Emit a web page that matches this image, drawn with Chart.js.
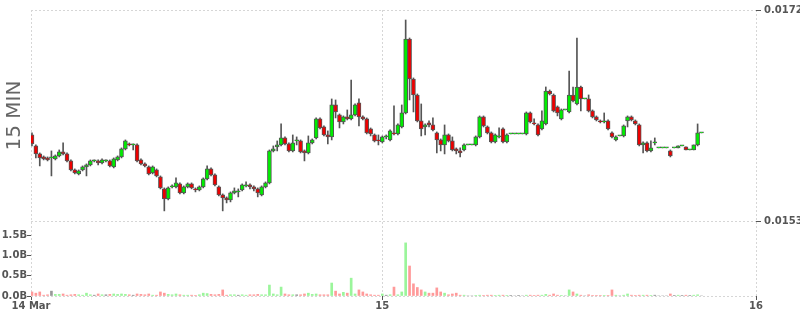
<!DOCTYPE html>
<html>
<head>
<meta charset="utf-8">
<script src="https://cdn.jsdelivr.net/npm/chart.js@4.4.0/dist/chart.umd.min.js"></script>
<style>
  html, body { margin: 0; padding: 0; background: #fff; }
</style>
</head>
<body>
<canvas id="chart" width="800" height="315"></canvas>
<script>
// 15 minute candles, slot 0 = 14 Mar 01:30
const open = [
  0.016075,0.015976,0.015904,0.015877,0.015868,0.015868,0.015859,0.015886,0.015922,0.015904,
  0.015841,0.015760,0.015724,0.015760,0.015787,0.015805,0.015841,0.015841,0.015823,0.015841,
  0.015841,0.015787,0.015850,0.015877,0.015949,0.015994,0.015985,0.015985,0.015850,0.015814,
  0.015787,0.015733,0.015760,0.015697,0.015589,0.015499,0.015607,0.015607,0.015634,0.015553,
  0.015607,0.015634,0.015589,0.015580,0.015607,0.015679,0.015769,0.015715,0.015607,0.015535,
  0.015508,0.015490,0.015553,0.015562,0.015580,0.015616,0.015625,0.015607,0.015589,0.015535,
  0.015607,0.015643,0.015931,0.015967,0.015985,0.016048,0.015994,0.015931,0.016021,0.016021,
  0.015931,0.015913,0.016003,0.016048,0.016219,0.016147,0.016075,0.016057,0.016345,0.016255,
  0.016192,0.016237,0.016219,0.016255,0.016363,0.016237,0.016219,0.016129,0.016075,0.016030,
  0.016012,0.016057,0.016030,0.016093,0.016084,0.016147,0.016273,0.016939,0.016579,0.016435,
  0.016201,0.016147,0.016183,0.016165,0.016093,0.016030,0.015985,0.016075,0.016021,0.015949,
  0.015931,0.015940,0.015985,0.015985,0.015985,0.016057,0.016237,0.016147,0.016093,0.016012,
  0.016057,0.016129,0.016012,0.016084,0.016084,0.016084,0.016084,0.016084,0.016273,0.016183,
  0.016165,0.016129,0.016174,0.016471,0.016435,0.016327,0.016219,0.016300,0.016282,0.016435,
  0.016354,0.016507,0.016399,0.016399,0.016291,0.016237,0.016201,0.016192,0.016201,0.016093,
  0.016030,0.016066,0.016066,0.016201,0.016237,0.016201,0.016165,0.015985,0.016003,0.015931,
  0.016003,0.015958,0.015958,0.015958,0.015931,0.015958,0.015958,0.015976,0.015967,0.015940,
  0.015940,0.015985,0.016093
];
const high = [
  0.016093,0.015985,0.015913,0.015886,0.015877,0.015931,0.015895,0.015940,0.016003,0.015913,
  0.015850,0.015769,0.015760,0.015796,0.015814,0.015850,0.015850,0.015850,0.015859,0.015850,
  0.015850,0.015868,0.015886,0.015958,0.016030,0.016003,0.015994,0.015994,0.015859,0.015823,
  0.015796,0.015796,0.015769,0.015706,0.015598,0.015607,0.015625,0.015688,0.015643,0.015616,
  0.015643,0.015643,0.015598,0.015616,0.015688,0.015796,0.015778,0.015724,0.015616,0.015544,
  0.015517,0.015562,0.015598,0.015589,0.015634,0.015652,0.015634,0.015616,0.015598,0.015616,
  0.015652,0.015940,0.015976,0.016021,0.016174,0.016057,0.016003,0.016075,0.016057,0.016030,
  0.015940,0.016066,0.016039,0.016228,0.016228,0.016156,0.016111,0.016399,0.016390,0.016264,
  0.016246,0.016300,0.016570,0.016354,0.016399,0.016246,0.016228,0.016138,0.016084,0.016075,
  0.016066,0.016075,0.016120,0.016336,0.016174,0.016345,0.017110,0.016948,0.016588,0.016444,
  0.016354,0.016174,0.016201,0.016228,0.016102,0.016039,0.016165,0.016084,0.016057,0.015958,
  0.015958,0.015994,0.015985,0.015985,0.016066,0.016246,0.016246,0.016156,0.016102,0.016084,
  0.016138,0.016138,0.016084,0.016084,0.016084,0.016084,0.016084,0.016282,0.016282,0.016219,
  0.016174,0.016291,0.016507,0.016480,0.016444,0.016336,0.016309,0.016300,0.016651,0.016507,
  0.016948,0.016516,0.016399,0.016435,0.016300,0.016246,0.016210,0.016273,0.016210,0.016102,
  0.016066,0.016066,0.016165,0.016246,0.016246,0.016210,0.016174,0.016012,0.016012,0.016021,
  0.016048,0.015958,0.015958,0.015958,0.015940,0.015958,0.015976,0.015976,0.015967,0.015940,
  0.015985,0.016174,0.016093
];
const low = [
  0.015976,0.015868,0.015796,0.015850,0.015841,0.015706,0.015850,0.015877,0.015895,0.015832,
  0.015751,0.015724,0.015715,0.015751,0.015706,0.015796,0.015832,0.015805,0.015814,0.015832,
  0.015787,0.015778,0.015841,0.015868,0.015940,0.015976,0.015940,0.015832,0.015805,0.015787,
  0.015715,0.015724,0.015697,0.015589,0.015391,0.015490,0.015598,0.015598,0.015544,0.015544,
  0.015598,0.015589,0.015562,0.015571,0.015598,0.015670,0.015706,0.015616,0.015526,0.015391,
  0.015463,0.015472,0.015544,0.015517,0.015571,0.015607,0.015589,0.015571,0.015517,0.015526,
  0.015598,0.015634,0.015922,0.015931,0.015976,0.015985,0.015922,0.015922,0.015985,0.015913,
  0.015841,0.015904,0.015994,0.016039,0.016129,0.016066,0.015994,0.016030,0.016228,0.016138,
  0.016174,0.016210,0.016210,0.016246,0.016156,0.016210,0.016084,0.016066,0.016012,0.015985,
  0.016003,0.016039,0.016021,0.016075,0.016075,0.016138,0.016264,0.016390,0.016282,0.016192,
  0.016066,0.016075,0.016147,0.016111,0.015913,0.015931,0.015904,0.016012,0.015931,0.015904,
  0.015877,0.015931,0.015985,0.015985,0.015976,0.016048,0.016147,0.016084,0.016003,0.016003,
  0.016048,0.016003,0.016003,0.016084,0.016084,0.016084,0.016084,0.016075,0.016183,0.016165,
  0.016066,0.016120,0.016165,0.016435,0.016282,0.016246,0.016210,0.016300,0.016273,0.016372,
  0.016345,0.016291,0.016399,0.016282,0.016228,0.016201,0.016183,0.016183,0.016120,0.016048,
  0.016021,0.016066,0.016057,0.016147,0.016201,0.016165,0.015976,0.015913,0.015922,0.015922,
  0.015985,0.015958,0.015958,0.015958,0.015877,0.015958,0.015958,0.015976,0.015940,0.015940,
  0.015940,0.015976,0.016093
];
const close = [
  0.015994,0.015904,0.015868,0.015859,0.015850,0.015868,0.015886,0.015922,0.015904,0.015841,
  0.015760,0.015733,0.015751,0.015787,0.015805,0.015841,0.015841,0.015823,0.015850,0.015841,
  0.015796,0.015859,0.015877,0.015949,0.016021,0.015985,0.015985,0.015841,0.015814,0.015796,
  0.015724,0.015787,0.015706,0.015598,0.015499,0.015598,0.015616,0.015643,0.015553,0.015607,
  0.015634,0.015598,0.015580,0.015607,0.015679,0.015769,0.015715,0.015625,0.015535,0.015508,
  0.015490,0.015553,0.015571,0.015562,0.015625,0.015625,0.015607,0.015589,0.015553,0.015607,
  0.015643,0.015931,0.015949,0.015985,0.016048,0.015994,0.015931,0.016003,0.016021,0.015922,
  0.015913,0.016003,0.016030,0.016219,0.016138,0.016075,0.016057,0.016345,0.016282,0.016192,
  0.016237,0.016219,0.016255,0.016345,0.016237,0.016219,0.016093,0.016084,0.016021,0.016021,
  0.016057,0.016057,0.016111,0.016084,0.016165,0.016273,0.016939,0.016579,0.016435,0.016201,
  0.016129,0.016165,0.016165,0.016120,0.016030,0.015985,0.016075,0.016021,0.015940,0.015931,
  0.015913,0.015985,0.015985,0.015985,0.016057,0.016237,0.016156,0.016093,0.016012,0.016075,
  0.016066,0.016012,0.016075,0.016084,0.016084,0.016084,0.016084,0.016273,0.016192,0.016174,
  0.016075,0.016201,0.016471,0.016444,0.016291,0.016273,0.016300,0.016300,0.016435,0.016381,
  0.016507,0.016399,0.016399,0.016291,0.016237,0.016210,0.016192,0.016201,0.016129,0.016057,
  0.016057,0.016066,0.016156,0.016237,0.016210,0.016174,0.015985,0.016003,0.015931,0.015958,
  0.016003,0.015958,0.015958,0.015958,0.015886,0.015958,0.015976,0.015976,0.015940,0.015940,
  0.015985,0.016093,0.016093
];
// volume in billions
const volumeBn = [
  0.10,0.07,0.10,0.02,0.03,0.12,0.04,0.04,0.05,0.02,
  0.03,0.04,0.03,0.02,0.07,0.03,0.02,0.05,0.03,0.03,
  0.04,0.05,0.04,0.05,0.04,0.03,0.02,0.05,0.04,0.03,
  0.05,0.02,0.02,0.10,0.07,0.04,0.03,0.05,0.03,0.02,
  0.02,0.02,0.01,0.03,0.07,0.06,0.04,0.03,0.04,0.15,
  0.02,0.03,0.03,0.02,0.03,0.02,0.03,0.03,0.04,0.03,
  0.03,0.27,0.05,0.03,0.22,0.05,0.03,0.03,0.03,0.03,
  0.05,0.07,0.04,0.05,0.03,0.03,0.03,0.32,0.12,0.05,
  0.09,0.07,0.44,0.05,0.15,0.10,0.05,0.03,0.02,0.02,
  0.05,0.02,0.03,0.22,0.03,0.10,1.31,0.74,0.30,0.21,
  0.15,0.10,0.07,0.07,0.20,0.10,0.07,0.03,0.05,0.07,
  0.02,0.02,0,0,0.01,0.02,0.01,0.02,0.02,0.01,
  0.02,0.02,0.01,0.01,0,0.01,0,0.02,0.02,0.01,
  0.02,0.02,0.04,0.02,0.05,0.02,0.01,0,0.15,0.10,
  0.05,0.02,0,0.03,0.01,0.01,0.01,0.01,0.01,0.15,
  0.02,0,0.02,0.05,0.02,0.01,0.02,0.02,0.02,0.01,
  0.02,0,0,0,0.05,0.01,0.02,0.01,0.02,0.01,
  0.02,0.03,0
];

// axis ticks
const xTickLabels = ['14 Mar', '15', '16'];
const xTickSlots = [-0.25, 90, 186];   // left edge, 15 Mar 00:00, 16 Mar 00:00
const priceTicks = [0.0153, 0.0172];
const volumeTicks = [0, 0.5, 1.0, 1.5];
const volumeMax = 1.85;

const slots = open.map((_, i) => i);
const dir = (i) => close[i] > open[i] ? 1 : (close[i] < open[i] ? -1 : 0);
const bodyColors = slots.map(i => dir(i) >= 0 ? '#00ee00' : '#ee0000');
const volColors = slots.map(i => dir(i) > 0 ? '#9bf59b' : (dir(i) < 0 ? '#ff9a9a' : '#999'));

const tickFont = { family: 'DejaVu Sans', size: 10, weight: 'bold' };
const gridColor = '#d6d6d6';
const labelColor = '#555';

new Chart(document.getElementById('chart'), {
  type: 'bar',
  data: {
    datasets: [
      {
        label: 'body',
        data: slots.map(i => ({ x: i, y: [open[i], close[i]] })),
        yAxisID: 'y',
        backgroundColor: bodyColors,
        borderColor: '#555',
        borderWidth: 1,
        borderSkipped: false,
        barThickness: 4,
        minBarLength: 1,
        grouped: false,
        order: 0
      },
      {
        label: 'wick',
        data: slots.map(i => ({ x: i, y: [low[i], high[i]] })),
        yAxisID: 'y',
        backgroundColor: '#555',
        barThickness: 1,
        grouped: false,
        order: 1
      },
      {
        label: 'volume',
        data: slots.map(i => ({ x: i, y: volumeBn[i] })),
        yAxisID: 'yVol',
        backgroundColor: volColors,
        barThickness: 2,
        grouped: false,
        order: 2
      }
    ]
  },
  options: {
    responsive: false,
    animation: false,
    layout: { padding: { top: 10, right: 0, bottom: 0, left: 0 } },
    plugins: { legend: { display: false }, tooltip: { enabled: false } },
    scales: {
      x: {
        type: 'linear',
        min: xTickSlots[0],
        max: xTickSlots[2],
        offset: false,
        afterBuildTicks: (s) => { s.ticks = xTickSlots.map(v => ({ value: v })); },
        afterFit: (s) => { s.height = 19; },
        ticks: {
          autoSkip: false, maxRotation: 0, padding: 0,
          color: labelColor, font: tickFont,
          callback: (v, i) => xTickLabels[i]
        },
        grid: { offset: false, color: gridColor, tickColor: '#555', tickLength: 4 },
        border: { display: false, dash: [2, 2] }
      },
      // left stack is laid out in reverse order, so the volume axis comes first
      yVol: {
        type: 'linear',
        position: 'left',
        stack: 'left',
        stackWeight: 75,
        min: 0,
        max: volumeMax,
        afterBuildTicks: (s) => { s.ticks = volumeTicks.map(v => ({ value: v })); },
        afterFit: (s) => { s.width = 31; },
        ticks: {
          autoSkip: false, color: labelColor, font: tickFont, padding: 0,
          callback: (v) => v.toFixed(1) + 'B'
        },
        grid: {
          color: (ctx) => (ctx.tick && ctx.tick.value === 0) ? gridColor : 'rgba(0,0,0,0)',
          tickColor: '#555', tickLength: 4
        },
        border: { display: false, dash: [2, 2] }
      },
      yTitle: {
        type: 'linear',
        position: 'left',
        stack: 'left',
        stackWeight: 211,
        afterFit: (s) => { s.width = 31; },
        title: {
          display: true, text: '15 MIN', color: '#666',
          font: { family: 'DejaVu Sans', size: 20 },
          padding: { top: 3, bottom: 0 }
        },
        ticks: { display: false },
        grid: { display: false },
        border: { display: false }
      },
      y: {
        type: 'linear',
        position: 'right',
        stack: 'right',
        stackWeight: 211,
        min: priceTicks[0],
        max: priceTicks[1],
        afterBuildTicks: (s) => { s.ticks = priceTicks.map(v => ({ value: v })); },
        afterFit: (s) => { s.width = 44; },
        ticks: { autoSkip: false, color: labelColor, font: tickFont, padding: 3, callback: (v) => v.toFixed(4) },
        grid: { color: gridColor, tickColor: '#555', tickLength: 5 },
        border: { display: false, dash: [2, 2] }
      },
      yVolR: {
        type: 'linear',
        position: 'right',
        stack: 'right',
        stackWeight: 75,
        afterFit: (s) => { s.width = 44; },
        ticks: { display: false },
        grid: { display: false },
        border: { display: false }
      }
    }
  }
});
</script>
</body>
</html>
